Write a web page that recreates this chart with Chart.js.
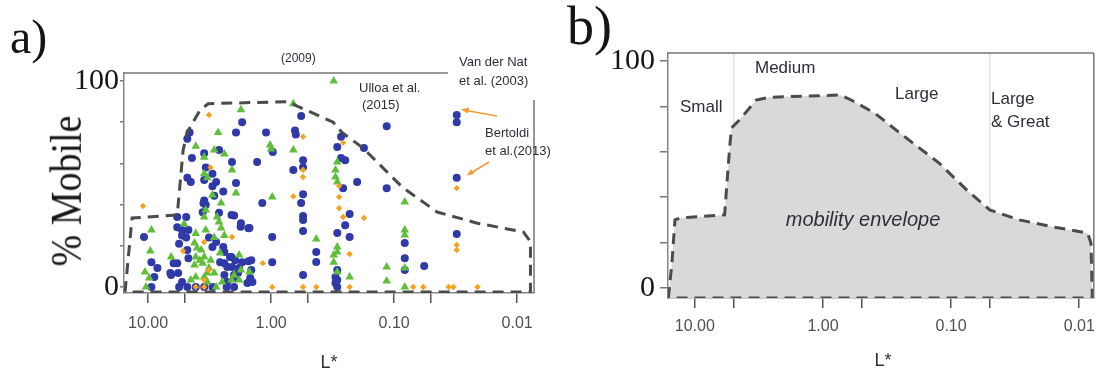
<!DOCTYPE html>
<html>
<head>
<meta charset="utf-8">
<script src="https://cdn.jsdelivr.net/npm/chart.js@4.4.1/dist/chart.umd.min.js"></script>
<style>
  html, body { margin: 0; padding: 0; background: #fff; }
  #wrap { position: relative; width: 1104px; height: 379px; overflow: hidden; font-family: "Liberation Sans", Arial, sans-serif; }
  canvas { position: absolute; top: 0; }
  .lbl { position: absolute; white-space: nowrap; color: #2e2e3a; line-height: 1; }
  .serif { font-family: "Liberation Serif", "DejaVu Serif", serif; color: #151515; }
  svg { position: absolute; left: 0; top: 0; }
</style>
</head>
<body>
<div id="wrap">
  <canvas id="chartA" width="552" height="379" style="left:0"></canvas>
  <canvas id="chartB" width="552" height="379" style="left:552px"></canvas>

  <!-- panel a text -->
  <div class="lbl serif" style="left:10px;top:13px;font-size:48px;">a)</div>
  <div class="lbl serif" style="left:66px;top:191px;font-size:38px;transform:translate(-50%,-50%) rotate(-90deg) scale(1,1.15);">% Mobile</div>
  <div class="lbl" style="left:281px;top:52px;font-size:12px;">(2009)</div>
  <div class="lbl" style="left:359px;top:81px;font-size:13px;">Ulloa et al.</div>
  <div class="lbl" style="left:362px;top:98px;font-size:13px;">(2015)</div>
  <div class="lbl" style="left:459px;top:55px;font-size:13px;">Van der Nat</div>
  <div class="lbl" style="left:459px;top:74px;font-size:13px;">et al. (2003)</div>
  <div class="lbl" style="left:485px;top:126px;font-size:13px;">Bertoldi</div>
  <div class="lbl" style="left:485px;top:144px;font-size:13px;">et al.(2013)</div>
  <div class="lbl" style="left:329px;top:353px;font-size:18px;transform:translateX(-50%);">L*</div>

  <!-- panel b text -->
  <div class="lbl serif" style="left:567px;top:-1px;font-size:54px;">b)</div>
  <div class="lbl" style="left:680px;top:98px;font-size:17px;">Small</div>
  <div class="lbl" style="left:755px;top:59px;font-size:17px;">Medium</div>
  <div class="lbl" style="left:895px;top:85px;font-size:17px;">Large</div>
  <div class="lbl" style="left:991px;top:90px;font-size:17px;">Large</div>
  <div class="lbl" style="left:991px;top:113px;font-size:17px;">&amp; Great</div>
  <div class="lbl" style="left:863px;top:209px;font-size:20px;font-style:italic;transform:translateX(-50%);">mobility envelope</div>
  <div class="lbl" style="left:883px;top:351px;font-size:18px;transform:translateX(-50%);">L*</div>

  <svg width="1104" height="379">
    <g stroke="#f39a30" stroke-width="1.5" fill="#f39a30">
      <line x1="497" y1="116" x2="466" y2="110.5"/>
      <polygon points="461,109.6 469,107.5 468,113.5" stroke="none"/>
      <line x1="489" y1="162" x2="471" y2="173"/>
      <polygon points="467,175.5 471,169 474,174" stroke="none"/>
    </g>
  </svg>
</div>

<script>
// Axis ticks
const xTickValues = [10, 5, 1, 0.5, 0.1, 0.05, 0.01];
const xTickLabels = ["10.00", "", "1.00", "", "0.10", "", "0.01"];
const yTickValues = [0, 20, 40, 60, 80, 100];
const yTickLabels = ["0", "", "", "", "", "100"];

// Panel a: [L*, % mobile]
const bluePoints = [
  [0.57, 83], [1.72, 80], [0.115, 78], [0.031, 83.5], [0.031, 80],
  [4.6, 75], [4.8, 72], [1.93, 75], [1.1, 75], [0.64, 76], [0.63, 74], [0.27, 73],
  [0.97, 65.5], [3.5, 65], [4.4, 62.6], [2.65, 66.5], [2.08, 60.7], [1.3, 60.7],
  [3.4, 58], [3.0, 55], [3.5, 52], [4.8, 53], [4.5, 51], [2.8, 51], [1.93, 50.5],
  [0.29, 68], [0.176, 67.5], [0.55, 61.6], [0.55, 58.2], [0.66, 56.8],
  [0.27, 62.6], [0.25, 61.6], [0.2, 51], [0.26, 48], [0.115, 48],
  [0.55, 45], [0.57, 40.8], [1.18, 40.8], [0.55, 34.5], [0.55, 32.5], [0.55, 27.2],
  [0.23, 35.4], [0.25, 30], [0.98, 24.3], [0.29, 26.2], [0.23, 24.3],
  [0.43, 17], [0.43, 12.1], [0.98, 12], [0.55, 5.8],
  [0.29, 8.3], [0.29, 3.4], [0.29, 0], [0.3, 4.9], [0.3, 1.9],
  [0.031, 53], [0.031, 25.7], [0.082, 21.4], [0.082, 14], [0.082, 8.3], [0.057, 10.2],
  [2.0, 34.7], [1.77, 29.3], [1.53, 28.5], [2.45, 46.4], [2.9, 44.3], [3.0, 48.9],
  [3.55, 40.7], [3.6, 36.3], [1.53, 12.5], [1.56, 2],
  [10.8, 24.3], [9.4, 12], [8.4, 9.2], [8.9, 4.9], [9.4, 0], [6.5, 5.8], [5.6, 0], [5.8, 11.6],
  [5.6, 21], [5.3, 25], [5.8, 29], [5.8, 34], [4.9, 34], [4.9, 24], [4.8, 18], [4.7, 14],
  [3.5, 42], [3.4, 40], [2.65, 36], [2.1, 35], [1.76, 31], [1.5, 28.6], [5.3, 27.7], [4.7, 27.7],
  [3.2, 24], [2.8, 21.8], [3.0, 19.4], [2.4, 17], [2.1, 14.6], [2.4, 11.6], [2.08, 9.7],
  [1.82, 9.2], [1.72, 12], [2.0, 5.8], [2.4, 5.8],
  [1.45, 13], [1.45, 8.3], [1.42, 2.4], [2.0, 0], [2.3, 0], [3.0, 0], [3.5, 0], [4.1, 0], [4.8, 0],
  [2.45, 19.4], [2.16, 14.6], [1.96, 13], [2.6, 12], [2.27, 9.7], [1.86, 6.8], [1.96, 4.4],
  [2.27, 2.4], [1.48, 4.4], [6.2, 11.6], [5.7, 6.8], [5.3, 2.4], [6.6, 6.8]
];

const greenPoints = [
  [0.31, 100], [0.66, 89], [1.76, 86], [2.7, 75], [1.02, 69], [1.0, 67], [4.1, 68.4],
  [3.5, 63], [2.9, 66.5], [2.4, 64.6], [0.66, 66.5],
  [0.29, 60.7], [0.3, 56.8], [0.3, 53.4], [0.29, 51],
  [2.08, 56.8], [3.5, 55], [3.3, 53], [1.93, 45.6], [3.0, 44.7], [2.55, 40.8], [0.98, 43.7], [0.082, 41.3],
  [3.4, 37.4], [3.5, 34], [2.75, 34], [2.65, 31.6],
  [9.4, 27.7], [9.6, 17.5], [10.6, 7.3], [9.8, 4.4], [10.4, 0], [6.5, 14.6], [5.1, 30.6],
  [4.1, 26], [3.4, 27.7], [2.9, 24], [2.4, 25], [2.55, 28.6],
  [4.2, 21.4], [3.7, 18], [4.1, 14.6], [3.5, 14.6], [3.1, 13], [3.6, 11.6], [4.2, 10.7],
  [3.2, 9.2], [2.9, 6.8], [3.5, 4.9], [4.1, 4.9], [4.5, 3.4],
  [1.82, 15.5], [1.76, 8.3], [2.1, 3.4], [2.5, 2.4], [1.5, 7.3], [1.82, 3.4], [2.8, 0], [3.3, 2.4],
  [0.43, 23.3], [0.29, 19.4], [0.29, 17], [0.31, 15.5], [0.31, 12], [0.29, 7.3], [0.23, 4.9],
  [0.115, 9.7], [0.115, 2.9], [0.082, 27.7], [0.082, 25.2], [0.082, 9.2], [0.082, 0],
  [2.0, 5.7], [4.0, 19], [3.8, 13], [3.3, 6.8], [2.6, 16.5]
];

const orangePoints = [
  [3.2, 83.5], [0.55, 73], [0.26, 70], [3.1, 58], [0.55, 56.8], [0.55, 53.4], [0.28, 49], [0.031, 48],
  [0.66, 44], [0.28, 43.7], [0.28, 38.3], [11, 39.3], [0.26, 34], [0.176, 33.5],
  [2.08, 24.3], [3.5, 21.8], [5.2, 17.5], [1.17, 11.6], [0.23, 16], [0.031, 20.4], [0.031, 18],
  [3.2, 8.3], [3.5, 3.4], [4.1, 0], [3.5, 0],
  [0.98, 0], [0.55, 0], [0.43, 0], [0.23, 0], [0.07, 0], [0.058, 0], [0.036, 0], [0.033, 0], [0.021, 0]
];

// dashed envelope, panel a
const envelopeA = [
  [15.4, -2.4], [13.5, 33.5], [5.8, 35], [5.19, 66.5], [4.82, 75], [3.78, 86], [3.25, 89],
  [0.74, 90], [0.313, 80], [0.265, 75], [0.179, 67.5], [0.086, 48.5], [0.0447, 36.4],
  [0.0211, 31], [0.0089, 26.7], [0.0078, 22], [0.0078, -2.4], [15.4, -2.4]
];

// mobility envelope, panel b
const envelopeB = [
  [16.1, -4.4], [15.1, 11], [14.3, 30], [13.1, 30.8], [5.86, 32.2], [5.37, 60.8], [5.18, 70.5],
  [4.49, 74], [3.32, 82.8], [2.64, 84], [0.733, 85], [0.603, 82.8], [0.394, 77], [0.248, 68],
  [0.124, 55], [0.075, 43], [0.05, 34.4], [0.0293, 30], [0.016, 26.9], [0.0086, 24.2],
  [0.0081, 19.8], [0.0079, -4.4], [16.1, -4.4]
];

const toXY = pts => pts.map(p => ({ x: p[0], y: p[1] }));

function xAxis(min, max, height, pad, gridColor) {
  return {
    type: "logarithmic",
    reverse: true,
    min: min,
    max: max,
    afterBuildTicks: s => { s.ticks = xTickValues.map(v => ({ value: v })); },
    afterFit: s => { s.height = height; },
    ticks: {
      callback: v => xTickLabels[xTickValues.indexOf(v)] || "",
      font: { family: "Liberation Sans", size: 16 },
      color: "#505050",
      padding: pad,
      maxRotation: 0,
      minRotation: 0,
      autoSkip: false,
    },
    grid: {
      drawOnChartArea: !!gridColor,
      color: ctx => (gridColor && ctx.tick && (ctx.tick.value === 5 || ctx.tick.value === 0.05)) ? gridColor : "rgba(0,0,0,0)",
      tickColor: "#555",
      tickLength: 10,
      lineWidth: 1.5,
    },
    border: { color: "#8a8585", width: 1.5 },
  };
}

function yAxis(min, max, width, tickLen, pad, size) {
  return {
    min: min,
    max: max,
    afterBuildTicks: s => { s.ticks = yTickValues.map(v => ({ value: v })); },
    afterFit: s => { s.width = width; },
    ticks: {
      callback: v => yTickLabels[yTickValues.indexOf(v)] || "",
      font: { family: "Liberation Serif", size: size },
      color: "#151515",
      padding: pad,
    },
    grid: { drawOnChartArea: false, tickLength: tickLen, tickColor: "#777", lineWidth: 1.5 },
    border: { color: "#8a8585", width: 1.5 },
  };
}

// top and right frame lines
function framePlugin(topFrac, rightStart) {
  return {
    id: "frame",
    afterDraw(chart) {
      const { ctx, chartArea: a } = chart;
      ctx.save();
      ctx.strokeStyle = "#777";
      ctx.lineWidth = 1.5;
      ctx.beginPath();
      ctx.moveTo(a.left, a.top);
      ctx.lineTo(a.left + (a.right - a.left) * topFrac, a.top);
      ctx.moveTo(a.right, a.top + rightStart);
      ctx.lineTo(a.right, a.bottom);
      ctx.stroke();
      ctx.restore();
    },
  };
}

const commonOpts = {
  responsive: false,
  animation: false,
  events: [],
};

function createPanelA() {
  return new Chart(document.getElementById("chartA"), {
    type: "scatter",
    data: {
      datasets: [
        {
          label: "envelope",
          data: toXY(envelopeA),
          showLine: true,
          borderColor: "#4b4b4b",
          borderWidth: 3,
          borderDash: [11, 7],
          pointRadius: 0,
          fill: false,
          order: 0,
        },
        {
          label: "blue",
          data: toXY(bluePoints),
          pointStyle: "circle",
          pointRadius: 4,
          backgroundColor: "#2f3aa8",
          borderWidth: 0,
          order: 3,
        },
        {
          label: "green",
          data: toXY(greenPoints),
          pointStyle: "triangle",
          pointRadius: 5,
          backgroundColor: "#5fbe3a",
          borderWidth: 0,
          order: 2,
        },
        {
          label: "orange",
          data: toXY(orangePoints),
          pointStyle: "rectRot",
          pointRadius: 3.2,
          backgroundColor: "#f6a21e",
          borderWidth: 0,
          order: 1,
        },
      ],
    },
    options: {
      ...commonOpts,
      layout: { padding: { top: 73, right: 18, left: 0, bottom: 0 } },
      plugins: { legend: { display: false }, tooltip: { enabled: false } },
      scales: {
        x: xAxis(0.0073, 15.7, 86, 11, null),
        y: yAxis(-2.9, 103.9, 124, 4, 1, 30),
      },
    },
    plugins: [framePlugin(0.79, 27)],
  });
}

function createPanelB() {
  return new Chart(document.getElementById("chartB"), {
    type: "scatter",
    data: {
      datasets: [
        {
          label: "mobility envelope",
          data: toXY(envelopeB),
          showLine: true,
          borderColor: "#4b4b4b",
          borderWidth: 3,
          borderDash: [11, 7],
          backgroundColor: "#d9d9d9",
          pointRadius: 0,
          fill: "shape",
        },
      ],
    },
    options: {
      ...commonOpts,
      layout: { padding: { top: 53, right: 6, left: 0, bottom: 0 } },
      plugins: { legend: { display: false }, tooltip: { enabled: false } },
      scales: {
        x: xAxis(0.0077, 16.2, 81, 9, "#e4e4e4"),
        y: yAxis(-4.4, 103.5, 116, 8, 5, 30),
      },
    },
    plugins: [framePlugin(1, 0)],
  });
}

document.addEventListener("DOMContentLoaded", () => {
  createPanelA();
  createPanelB();
});
</script>
</body>
</html>
